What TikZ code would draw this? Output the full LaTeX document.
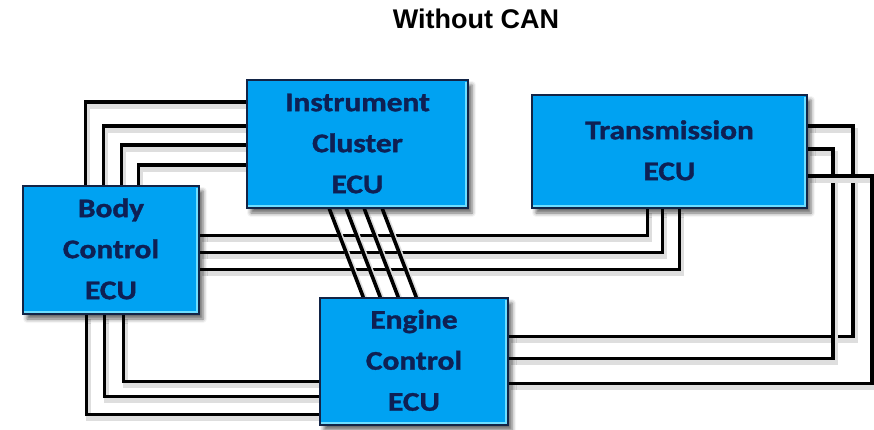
\documentclass[tikz,border=0pt]{standalone}
\usepackage{fontspec}
\setmainfont{Carlito}
\newfontfamily\ecufont[FakeBold=1.2]{Carlito}
\newfontfamily\titlefont{Liberation Sans}
\usetikzlibrary{shadows.blur}
\pgfdeclarelayer{wires}
\pgfsetlayers{wires,main}
\definecolor{ecufill}{RGB}{0,162,242}
\definecolor{ecuedge}{RGB}{18,36,70}
\definecolor{ecuink}{RGB}{14,32,84}
\definecolor{ecuhl}{RGB}{110,222,255}
\newcommand\ecutext[1]{\scalebox{1.16}[1]{\begin{tabular}{@{}c@{}}#1\end{tabular}}}

\begin{document}
\begin{tikzpicture}[x=1pt,y=-1pt,
  ecu/.style={draw=ecuedge, line width=1.4pt, fill=ecufill, text=ecuink,
    font=\ecufont\fontsize{27}{41}\selectfont\bfseries, inner sep=0pt,
    blur shadow={shadow xshift=4pt, shadow yshift=-5pt,
      shadow blur radius=4pt, shadow opacity=60}},
  wire/.style={line width=3.6pt, black,
    preaction={draw=black!13, line width=5pt,
      transform canvas={shift={(2.5pt,-4pt)}}}},
  highlight/.style={ecuhl, line width=2pt},
  heading/.style={font=\titlefont\fontsize{27}{30}\selectfont\bfseries, inner sep=0pt}]
\useasboundingbox (0,0) rectangle (874,430);

% title
\node[heading] (title) at (476,19) {Without CAN};

% the four ECUs
\node[ecu, minimum width=221pt, minimum height=128pt] (ic) at (357.5,144)
  {\ecutext{Instrument\\Cluster\\ECU}};
\node[ecu, minimum width=176pt, minimum height=128pt] (body) at (111,250)
  {\ecutext{Body\\Control\\ECU}};
\node[ecu, minimum width=275pt, minimum height=113pt] (trans) at (669.5,151.5)
  {\ecutext{Transmission\\ECU}};
\node[ecu, minimum width=188pt, minimum height=127pt] (eng) at (414,361.5)
  {\ecutext{Engine\\Control\\ECU}};

% light inner edge along the bottom and right side of each box
\foreach \n in {ic,body,trans,eng}
  \draw[highlight] ([xshift=2pt,yshift=2.6pt]\n.south west)
    -- ([xshift=-2.6pt,yshift=2.6pt]\n.south east)
    -- ([xshift=-2.6pt,yshift=-2.4pt]\n.north east);

\begin{pgfonlayer}{wires}
  % Body Control -> Instrument Cluster
  \foreach \dx/\dy in {63/23, 81/47, 99/66, 116/86}
    \draw[wire] ([xshift=\dx pt]body.north west) |- ([yshift=-\dy pt]ic.north west);
  % Body Control -> Transmission
  \foreach \dy/\dx in {50/116, 67/131, 84/148}
    \draw[wire] ([yshift=-\dy pt]body.north east) -| ([xshift=\dx pt]trans.south west);
  % Instrument Cluster -> Engine Control
  \foreach \a/\b in {83/44, 100/61, 118/79, 136/97}
    \draw[wire] ([xshift=\a pt]ic.south west) -- ([xshift=\b pt]eng.north west);
  % Transmission -> Engine Control
  \foreach \dy/\run/\ey in {32/45/39, 55/25/61, 82/64/86}
    \draw[wire] ([yshift=-\dy pt]trans.north east) -- ++(\run,0)
      |- ([yshift=-\ey pt]eng.north east);
  % Body Control -> Engine Control
  \foreach \dx/\ey in {64/117, 82/99, 101/84}
    \draw[wire] ([xshift=\dx pt]body.south west) |- ([yshift=-\ey pt]eng.north west);
\end{pgfonlayer}
\end{tikzpicture}
\end{document}
